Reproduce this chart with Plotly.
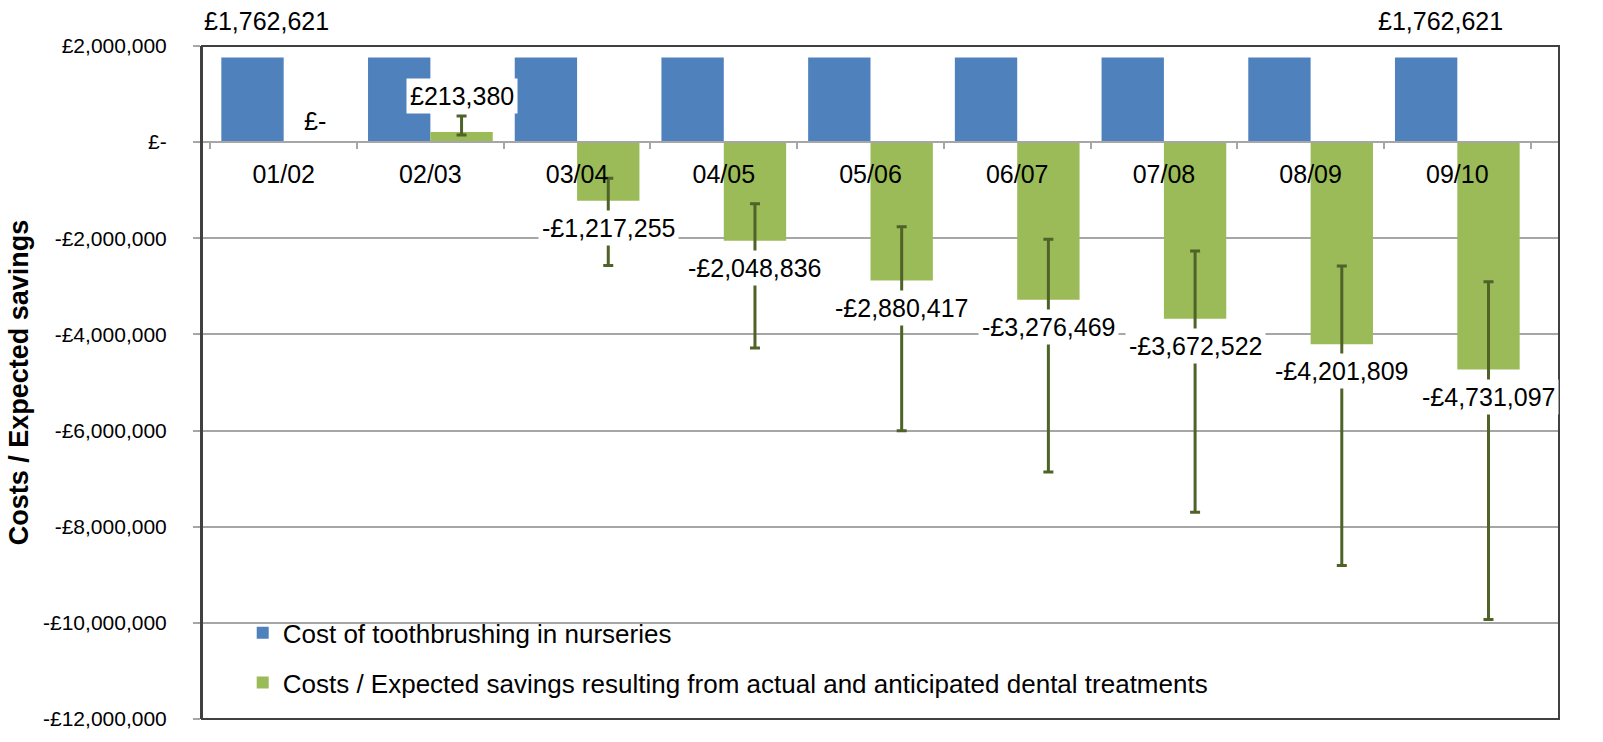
import numpy as np
import plotly.graph_objects as go

# ---- data ----
categories = ["01/02", "02/03", "03/04", "04/05", "05/06", "06/07", "07/08", "08/09", "09/10"]
cost_toothbrushing = [1762621, 1762621, 1762621, 1762621, 1762621, 1762621, 1762621, 1762621, 1762621]
savings = [0, 213380, -1217255, -2048836, -2880417, -3276469, -3672522, -4201809, -4731097]
savings_high = [None, 546000, -751000, -1283000, -1760000, -2019000, -2265000, -2578000, -2906000]
savings_low = [None, 150000, -2565000, -4284000, -6003000, -6862000, -7701000, -8806000, -9932000]
blue_labelled = ["01/02", "09/10"]
ytick_vals = [2000000, 0, -2000000, -4000000, -6000000, -8000000, -10000000, -12000000]
ytick_text = ["£2,000,000", "£-", "-£2,000,000", "-£4,000,000", "-£6,000,000",
              "-£8,000,000", "-£10,000,000", "-£12,000,000"]
name_blue = "Cost of toothbrushing in nurseries"
name_green = "Costs / Expected savings resulting from actual and anticipated dental treatments"
y_title = "Costs / Expected savings"

# ---- styles ----
BLUE = "#4f81bd"
GREEN = "#9bbb59"
ERR = "#4f6228"
GRID = "#a6a6a6"
BORDER = "#404040"
FONT = "Liberation Sans, Arial, sans-serif"
YMIN, YMAX = -12000000, 2000000
BARGAP = 0.15


def money(v):
    if v == 0:
        return "£-"
    return ("-£" if v < 0 else "£") + f"{abs(v):,}"


# NaN (kept as float64 typed array) means "no error bar" for that point
err_plus = np.array([np.nan if h is None else h - v for h, v in zip(savings_high, savings)], dtype=float)
err_minus = np.array([np.nan if l is None else v - l for l, v in zip(savings_low, savings)], dtype=float)

fig = go.Figure()
fig.add_trace(go.Bar(
    x=categories, y=cost_toothbrushing, name=name_blue,
    marker=dict(color=BLUE, line=dict(width=0)), legendgroup="a",
))
fig.add_trace(go.Bar(
    x=categories, y=savings, name=name_green,
    marker=dict(color=GREEN, line=dict(width=0)), legendgroup="b",
    error_y=dict(type="data", symmetric=False, array=err_plus, arrayminus=err_minus,
                 color=ERR, thickness=3, width=5),
))

half = (1 - BARGAP) / 4.0  # offset of each bar centre from category centre
annotations = []


def label_shift(v):
    if v > 0:
        return 36
    if v == 0:
        return 21
    return -27


for i, (c, v) in enumerate(zip(categories, cost_toothbrushing)):
    if c in blue_labelled:
        annotations.append(dict(
            x=i - half, y=v, xref="x", yref="y", text=money(v), showarrow=False,
            xshift=14, yshift=label_shift(v), yanchor="middle",
            font=dict(family=FONT, size=25, color="#000000"),
        ))

for i, v in enumerate(savings):
    annotations.append(dict(
        x=i + half, y=v, xref="x", yref="y", text=money(v), showarrow=False,
        yshift=label_shift(v), yanchor="middle",
        font=dict(family=FONT, size=25, color="#000000"),
        bgcolor="#ffffff", borderpad=3,
    ))

fig.update_layout(
    width=1603, height=742,
    margin=dict(l=202, r=44, t=46, b=12),
    paper_bgcolor="#ffffff", plot_bgcolor="#ffffff",
    barmode="group", bargap=BARGAP, bargroupgap=0,
    font=dict(family=FONT, size=21, color="#000000"),
    showlegend=True,
    legend=dict(
        x=0.03, y=0.163, xanchor="left", yanchor="top",
        bgcolor="rgba(0,0,0,0)", borderwidth=0,
        font=dict(family=FONT, size=26, color="#000000"),
        tracegroupgap=13, traceorder="grouped",
    ),
    annotations=annotations,
    shapes=[
        # white panel behind the legend (hides the gridline like the original)
        dict(type="rect", xref="paper", yref="paper", x0=0.0147, x1=0.7745, y0=0.03, y1=0.17,
             fillcolor="#ffffff", line=dict(width=0), layer="between"),
        dict(type="rect", xref="paper", yref="paper", x0=0, x1=1, y0=0, y1=1,
             line=dict(color=BORDER, width=2), layer="above"),
    ],
)

fig.update_xaxes(
    type="category", anchor="free", position=(0 - YMIN) / (YMAX - YMIN),
    showline=True, linecolor=GRID, linewidth=1.5,
    ticks="outside", tickson="boundaries", ticklen=6, tickcolor=GRID, tickwidth=1.5,
    ticklabelstandoff=10,
    tickfont=dict(family=FONT, size=25, color="#000000"),
    showgrid=False, zeroline=False,
)
fig.update_yaxes(
    range=[YMIN, YMAX], tickvals=ytick_vals, ticktext=ytick_text,
    showline=True, linecolor=BORDER, linewidth=2,
    ticks="outside", ticklen=7, tickcolor=GRID, tickwidth=1.5,
    ticklabelstandoff=22,
    tickfont=dict(family=FONT, size=21, color="#000000"),
    showgrid=True, gridcolor=GRID, gridwidth=1.5,
    zeroline=False,
    title=dict(text="<b>" + y_title + "</b>", standoff=7,
               font=dict(family=FONT, size=27, color="#000000")),
)

fig.write_html("out.html", config={"displayModeBar": False},
               post_script="document.body.style.margin='0';")
